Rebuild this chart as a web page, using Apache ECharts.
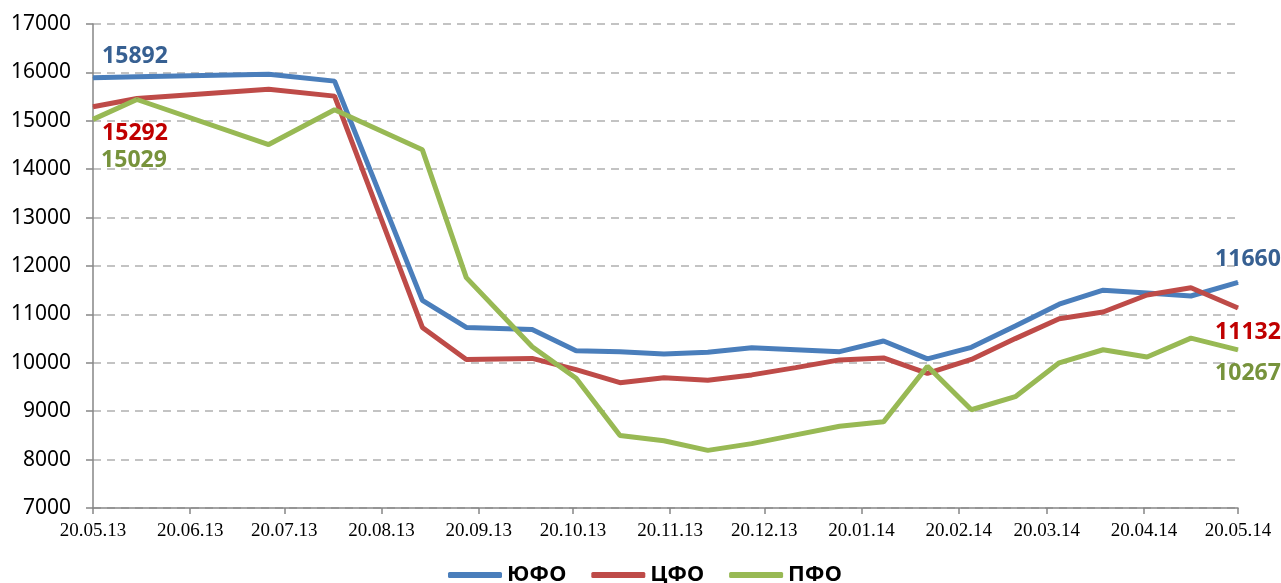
<!DOCTYPE html>
<html>
<head>
<meta charset="utf-8">
<script src="https://cdn.jsdelivr.net/npm/echarts@6/dist/echarts.min.js"></script>
<style>
  html, body { margin: 0; padding: 0; background: #fff; }
  #chart { width: 1281px; height: 583px; }
</style>
</head>
<body>
<div id="chart"></div>
<script>
// даты замеров (каждые две недели, в начале реже)
const dates = [
  '2013-05-20', '2013-06-03', '2013-07-15', '2013-08-05', '2013-09-02', '2013-09-16',
  '2013-10-07', '2013-10-21', '2013-11-04', '2013-11-18', '2013-12-02', '2013-12-16',
  '2013-12-30', '2014-01-13', '2014-01-27', '2014-02-10', '2014-02-24', '2014-03-10',
  '2014-03-24', '2014-04-07', '2014-04-21', '2014-05-05', '2014-05-20'
]
const yufo = [15892, 15910, 15960, 15820, 11290, 10730, 10690, 10250, 10230, 10180, 10220, 10310,
  10270, 10230, 10450, 10080, 10320, 10760, 11210, 11500, 11440, 11380, 11660]
const cfo = [15292, 15460, 15650, 15510, 10730, 10070, 10090, 9860, 9590, 9690, 9640, 9750,
  9900, 10060, 10100, 9780, 10070, 10500, 10910, 11050, 11400, 11550, 11132]
const pfo = [15029, 15440, 14510, 15230, 14400, 11760, 10330, 9680, 8500, 8390, 8190, 8330,
  8510, 8690, 8780, 9930, 9030, 9300, 10000, 10270, 10120, 10510, 10267]

// подписи оси X
const xTickDates = ['2013-05-20', '2013-06-20', '2013-07-20', '2013-08-20', '2013-09-20', '2013-10-20',
  '2013-11-20', '2013-12-20', '2014-01-20', '2014-02-20', '2014-03-20', '2014-04-20', '2014-05-20']
const xTickLabels = ['20.05.13', '20.06.13', '20.07.13', '20.08.13', '20.09.13', '20.10.13',
  '20.11.13', '20.12.13', '20.01.14', '20.02.14', '20.03.14', '20.04.14', '20.05.14']

// ось X в днях от первой даты
const dayOf = function(s) {
  var p = s.split('-')
  return Math.round((Date.UTC(+p[0], +p[1] - 1, +p[2]) - Date.UTC(2013, 4, 20)) / 86400000)
}
const xTickDays = xTickDates.map(dayOf)

// подписи первой и последней точки
const makeData = function(vals, color, firstOffset, lastOffset) {
  return vals.map(function(v, i) {
    var item = { value: [dayOf(dates[i]), v] }
    if (i === 0 || i === vals.length - 1) {
      item.label = {
        show: true,
        position: 'inside',
        offset: i === 0 ? firstOffset : lastOffset,
        formatter: String(v),
        color: color,
        fontFamily: 'Noto Sans',
        fontWeight: 'bold',
        fontSize: 23
      }
    }
    return item
  })
}

const lineSeries = function(name, vals, color, labelColor, firstOffset, lastOffset) {
  return {
    name: name,
    type: 'line',
    data: makeData(vals, labelColor, firstOffset, lastOffset),
    showSymbol: true,
    showAllSymbol: true,
    symbol: 'circle',
    symbolSize: 1,
    itemStyle: { color: color },
    lineStyle: { color: color, width: 5 },
    emphasis: { disabled: true },
    animation: false
  }
}

const chart = echarts.init(document.getElementById('chart'))
chart.setOption({
  animation: false,
  grid: { left: 93, right: 43, top: 24, bottom: 75, outerBoundsMode: 'none' },
  legend: {
    top: 559,
    left: 443,
    itemWidth: 54,
    itemHeight: 6,
    itemGap: 25,
    icon: 'roundRect',
    textStyle: { fontFamily: 'Noto Sans', fontWeight: 'bold', fontSize: 22, color: '#000' },
    data: ['ЮФО', 'ЦФО', 'ПФО']
  },
  xAxis: {
    type: 'value',
    min: xTickDays[0],
    max: xTickDays[xTickDays.length - 1],
    axisLine: { lineStyle: { color: '#868686', width: 1.5 } },
    axisTick: { show: true, customValues: xTickDays, length: 6, lineStyle: { color: '#868686', width: 1.5 } },
    axisLabel: {
      customValues: xTickDays,
      margin: 14,
      fontFamily: 'Liberation Serif',
      fontSize: 19,
      color: '#000',
      formatter: function(v) {
        var idx = xTickDays.indexOf(v)
        return idx >= 0 ? xTickLabels[idx] : ''
      }
    },
    splitLine: { show: false }
  },
  yAxis: {
    type: 'value',
    min: 7000,
    max: 17000,
    interval: 1000,
    axisLine: { show: true, lineStyle: { color: '#868686', width: 1.5 } },
    axisTick: { show: true, length: 7, lineStyle: { color: '#868686', width: 1.5 } },
    axisLabel: {
      margin: 22,
      fontFamily: 'Noto Sans',
      fontSize: 21,
      color: '#000',
      formatter: function(v) { return String(v) }
    },
    splitLine: { lineStyle: { color: '#b0b0b0', width: 1.5, type: [8, 6] } }
  },
  series: [
    lineSeries('ЮФО', yufo, '#4a7ebb', '#376092', [42, -21], [10, -23]),
    lineSeries('ЦФО', cfo, '#be4b48', '#c00000', [42, 27], [10, 24]),
    lineSeries('ПФО', pfo, '#98b954', '#77933c', [41, 41], [10, 24])
  ]
})
</script>
</body>
</html>
